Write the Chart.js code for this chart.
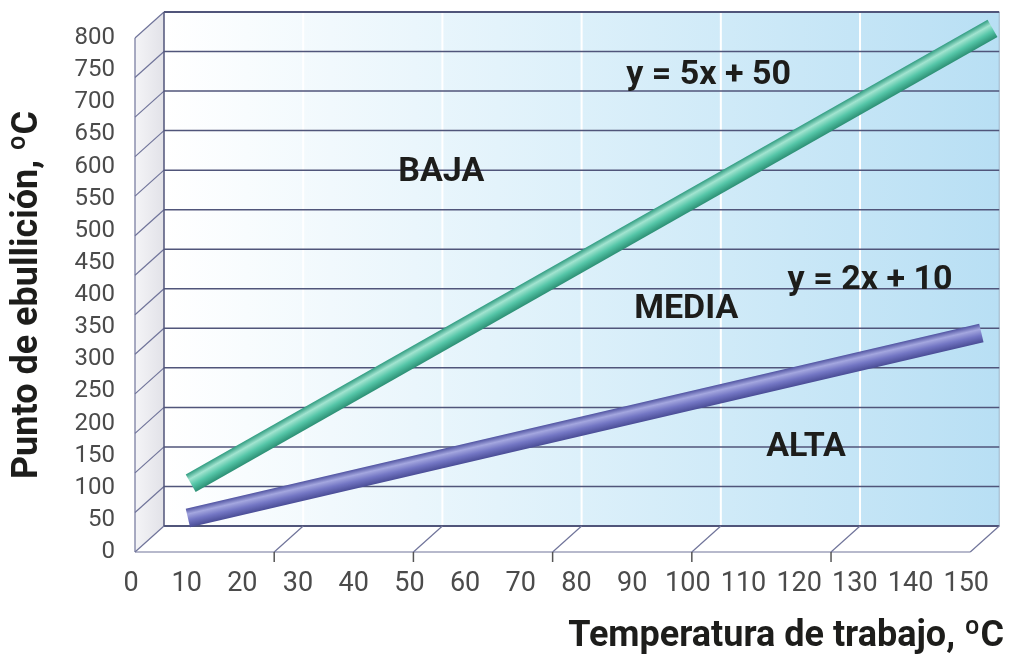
<!DOCTYPE html>
<html>
<head>
<meta charset="utf-8">
<script src="https://cdn.jsdelivr.net/npm/chart.js@4/dist/chart.umd.min.js"></script>
<style>
    html, body { margin: 0; padding: 0; background: #fff; }
    #caja { width: 1009px; height: 655px; }
</style>
</head>
<body>
<div id="caja"><canvas id="grafico" width="1009" height="655"></canvas></div>
<script>
// valores
const marcasX = [0, 10, 20, 30, 40, 50, 60, 70, 80, 90, 100, 110, 120, 130, 140, 150];
const marcasY = [0, 50, 100, 150, 200, 250, 300, 350, 400, 450, 500, 550, 600, 650, 700, 750, 800];

const tempBaja = [10, 154];      // y = 5x + 50 (tubo verde)
const puntoBaja = [107, 815];
const tempAlta = [9.5, 152];     // y = 2x + 10 (tubo morado)
const puntoAlta = [53, 341];

const zonas = ["BAJA", "MEDIA", "ALTA"];
const ecuaciones = ["y = 5x + 50", "y = 2x + 10"];

const DX = 29, DY = -26; // profundidad del efecto 3D

function linea(ctx, x0, y0, x1, y1) {
    ctx.beginPath();
    ctx.moveTo(x0, y0);
    ctx.lineTo(x1, y1);
    ctx.stroke();
}

// degradado perpendicular al tubo para simular el volumen
function tubo(chart, i, colores, ancho) {
    const { x, y } = chart.scales;
    const d = chart.data.datasets[i].data;
    if (!x || !y) return colores[2];
    const x0 = x.getPixelForValue(d[0].x), y0 = y.getPixelForValue(d[0].y);
    const x1 = x.getPixelForValue(d[1].x), y1 = y.getPixelForValue(d[1].y);
    if (![x0, y0, x1, y1].every(Number.isFinite)) return colores[2];
    let nx = -(y1 - y0), ny = x1 - x0;
    const len = Math.hypot(nx, ny) || 1;
    nx /= len; ny /= len;
    const mx = (x0 + x1) / 2, my = (y0 + y1) / 2, h = ancho / 2;
    const g = chart.ctx.createLinearGradient(mx - nx * h, my - ny * h, mx + nx * h, my + ny * h);
    g.addColorStop(0, colores[0]);
    g.addColorStop(0.3, colores[1]);
    g.addColorStop(0.62, colores[2]);
    g.addColorStop(1, colores[3]);
    return g;
}

const decorado3D = {
    id: "decorado3D",
    beforeDatasetsDraw(chart) {
        const { ctx, scales: { x, y } } = chart;
        const px = v => x.getPixelForValue(v);
        const py = v => y.getPixelForValue(v);
        const L = px(0), R = px(150), T = py(800), B = py(0);
        ctx.save();

        // pared del fondo
        const g = ctx.createLinearGradient(L + DX, 0, R + DX, 0);
        g.addColorStop(0, "#ffffff");
        g.addColorStop(0.5, "#dcf0fa");
        g.addColorStop(1, "#b8dff4");
        ctx.fillStyle = g;
        ctx.fillRect(L + DX, T + DY, R - L, B - T);

        ctx.strokeStyle = "#ffffff";
        ctx.lineWidth = 2;
        for (let v = 25; v < 150; v += 25) linea(ctx, px(v) + DX, T + DY, px(v) + DX, B + DY);

        ctx.strokeStyle = "#9cb4c8";
        ctx.lineWidth = 1;
        linea(ctx, R + DX, T + DY, R + DX, B + DY);

        // pared lateral
        const gl = ctx.createLinearGradient(L, 0, L + DX, 0);
        gl.addColorStop(0, "#f4f4f7");
        gl.addColorStop(1, "#e2e2e8");
        ctx.fillStyle = gl;
        ctx.beginPath();
        ctx.moveTo(L, T);
        ctx.lineTo(L + DX, T + DY);
        ctx.lineTo(L + DX, B + DY);
        ctx.lineTo(L, B);
        ctx.closePath();
        ctx.fill();

        // suelo
        ctx.fillStyle = "#ffffff";
        ctx.beginPath();
        ctx.moveTo(L, B);
        ctx.lineTo(R, B);
        ctx.lineTo(R + DX, B + DY);
        ctx.lineTo(L + DX, B + DY);
        ctx.closePath();
        ctx.fill();

        // rejilla horizontal (13 divisiones en el original)
        for (let i = 0; i <= 13; i++) {
            const yy = py(800 * i / 13);
            ctx.strokeStyle = "#50557a";
            ctx.lineWidth = (i === 0 || i === 13) ? 2 : 1.5;
            linea(ctx, L + DX, yy + DY, R + DX, yy + DY);
            ctx.strokeStyle = "#70749a";
            ctx.lineWidth = 1.2;
            linea(ctx, L, yy, L + DX, yy + DY);
        }
        ctx.strokeStyle = "#50557a";
        ctx.lineWidth = 1.5;
        linea(ctx, L + DX, T + DY, L + DX, B + DY);

        ctx.strokeStyle = "#70749a";
        ctx.lineWidth = 1.2;
        linea(ctx, L, T, L, B);
        linea(ctx, L, B, R, B);
        for (let v = 25; v <= 150; v += 25) linea(ctx, px(v), B, px(v) + DX, B + DY);
        ctx.strokeStyle = "#555";
        ctx.lineWidth = 1.5;
        for (let v = 25; v < 150; v += 25) linea(ctx, px(v), B, px(v), B + 10);

        ctx.restore();
    },
    afterDatasetsDraw(chart) {
        const { ctx, scales: { x, y } } = chart;
        const textos = [
            [zonas[0], 55, 591],
            [zonas[1], 99, 377],
            [zonas[2], 120.5, 163],
            [ecuaciones[0], 103, 742],
            [ecuaciones[1], 132, 423]
        ];
        ctx.save();
        ctx.fillStyle = "#1d1d1b";
        ctx.font = "bold 34px Roboto";
        ctx.textAlign = "center";
        ctx.textBaseline = "middle";
        textos.forEach(([t, vx, vy]) => ctx.fillText(t, x.getPixelForValue(vx), y.getPixelForValue(vy)));

        ctx.font = "bold 36px Roboto";
        ctx.textAlign = "right";
        ctx.textBaseline = "alphabetic";
        ctx.fillText("Temperatura de trabajo, ºC", 1004, 646);
        ctx.restore();
    }
};

const ctx = document.getElementById("grafico");

new Chart(ctx, {
    type: "line",
    data: {
        datasets: [{
            label: ecuaciones[0],
            data: tempBaja.map((t, i) => ({ x: t, y: puntoBaja[i] })),
            borderColor: c => tubo(c.chart, 0, ["#2f9c80", "#a2e4d0", "#55c6a8", "#2c8f74"], 20),
            borderWidth: 20,
            borderCapStyle: "butt",
            pointRadius: 0,
            clip: false
        }, {
            label: ecuaciones[1],
            data: tempAlta.map((t, i) => ({ x: t, y: puntoAlta[i] })),
            borderColor: c => tubo(c.chart, 1, ["#4f52a0", "#a4a7df", "#7376c4", "#4a4d96"], 19),
            borderWidth: 19,
            borderCapStyle: "butt",
            pointRadius: 0,
            clip: false
        }]
    },
    options: {
        responsive: false,
        devicePixelRatio: 1,
        animation: false,
        layout: { padding: { top: 38, right: 31, left: 0, bottom: 0 } },
        plugins: {
            legend: { display: false },
            tooltip: { enabled: false }
        },
        scales: {
            x: {
                type: "linear",
                min: 0,
                max: 150,
                grid: { display: false, drawTicks: false },
                border: { display: false },
                afterBuildTicks: s => { s.ticks = marcasX.map(v => ({ value: v })); },
                afterFit: s => { s.height = 103; },
                ticks: {
                    padding: 16,
                    labelOffset: -4,
                    maxRotation: 0,
                    autoSkip: false,
                    color: "#4b4b4b",
                    font: { family: "Roboto", size: 27 }
                }
            },
            y: {
                min: 0,
                max: 800,
                grid: { display: false, drawTicks: false },
                border: { display: false },
                afterBuildTicks: s => { s.ticks = marcasY.map(v => ({ value: v })); },
                afterFit: s => { s.width = 135; },
                ticks: {
                    padding: 20,
                    autoSkip: false,
                    color: "#4b4b4b",
                    font: { family: "Roboto", size: 24 }
                },
                title: {
                    display: true,
                    text: "Punto de ebullición, ºC",
                    color: "#1d1d1b",
                    padding: { top: 6, bottom: 0 },
                    font: { family: "Roboto", weight: "bold", size: 36, lineHeight: 1.2 }
                }
            }
        }
    },
    plugins: [decorado3D]
});
</script>
</body>
</html>
